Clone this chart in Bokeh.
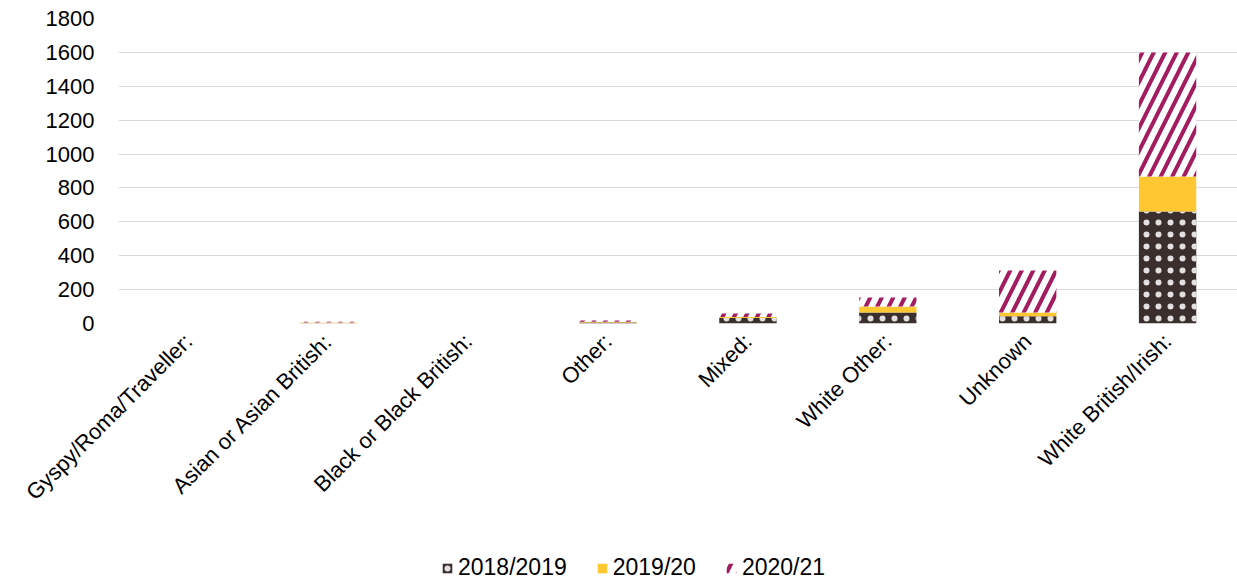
import math
from bokeh.plotting import figure
from bokeh.layouts import column
from bokeh.models import ColumnDataSource, FixedTicker, Legend, LegendItem, Range1d, FactorRange
from bokeh.transform import stack
from bokeh.embed import file_html
from bokeh.resources import INLINE

categories = ["Gyspy/Roma/Traveller:", "Asian or Asian British:", "Black or Black British:",
              "Other:", "Mixed:", "White Other:", "Unknown", "White British/Irish:"]
series_names = ["2018/2019", "2019/20", "2020/21"]
v2018 = [0, 1, 0, 6, 32, 65, 43, 661]
v2019 = [0, 5, 0, 4, 6, 35, 22, 206]
v2020 = [0, 4, 0, 7, 21, 53, 248, 733]
y_ticks = [0, 200, 400, 600, 800, 1000, 1200, 1400, 1600, 1800]

src = ColumnDataSource(dict(cat=categories, a=v2018, b=v2019, c=v2020))

FONT = "Liberation Sans"
DARK = dict(fill_color="#3a2f2c", line_color=None,
            hatch_pattern="dot", hatch_color="white", hatch_scale=12, hatch_weight=0.8,
            hatch_alpha=0.85)
YEL = dict(fill_color="#ffc832", line_color=None)
PINK = dict(fill_color="white", line_color=None,
            hatch_pattern="right_diagonal_line", hatch_color="#a31c60", hatch_scale=23, hatch_weight=4)

p = figure(x_range=FactorRange(*categories, range_padding=0), y_range=Range1d(0, 1800),
           width=1237, height=545, output_backend="svg", toolbar_location=None,
           min_border_left=118, min_border_right=0, min_border_top=18, min_border_bottom=222)
p.outline_line_color = None
p.background_fill_color = "white"

W = 0.41
p.vbar(x="cat", top=stack("a"), bottom=0, width=W, source=src, **DARK)
p.vbar(x="cat", top=stack("a", "b"), bottom=stack("a"), width=W, source=src, **YEL)
p.vbar(x="cat", top=stack("a", "b", "c"), bottom=stack("a", "b"), width=W, source=src, **PINK)

p.yaxis.ticker = FixedTicker(ticks=y_ticks)
p.ygrid.ticker = FixedTicker(ticks=y_ticks)
p.ygrid.grid_line_color = "#d9d9d9"
p.ygrid.grid_line_width = 1
p.xgrid.grid_line_color = None

for ax in (p.xaxis, p.yaxis):
    ax.axis_line_color = None
    ax.major_tick_line_color = None
    ax.minor_tick_line_color = None
    ax.major_label_text_font = FONT
    ax.major_label_text_font_size = "22px"
    ax.major_label_text_color = "#000000"

p.yaxis.major_label_standoff = 18
p.xaxis.major_label_orientation = math.pi / 4
p.xaxis.major_label_standoff = 8

# legend strip (its frame is aligned with the main frame, which starts at x=118)
lf = figure(width=1237, height=38, output_backend="svg", toolbar_location=None,
            x_range=Range1d(0, 1), y_range=Range1d(0, 1),
            min_border_left=0, min_border_right=0, min_border_top=0, min_border_bottom=0)
lf.axis.visible = False
lf.grid.visible = False
lf.outline_line_color = None
dummy = ColumnDataSource(dict(x=[-10], top=[0]))
l1 = lf.vbar(x="x", top="top", width=0.1, source=dummy, **DARK)
l2 = lf.vbar(x="x", top="top", width=0.1, source=dummy, **YEL)
l3 = lf.vbar(x="x", top="top", width=0.1, source=dummy, **PINK)
legend = Legend(items=[LegendItem(label=series_names[0], renderers=[l1]),
                       LegendItem(label=series_names[1], renderers=[l2]),
                       LegendItem(label=series_names[2], renderers=[l3])],
                orientation="horizontal", location=(323, 2),
                label_text_font=FONT, label_text_font_size="23px", label_text_color="#000000",
                glyph_width=12, glyph_height=12, label_standoff=5, spacing=29,
                padding=0, margin=0, border_line_color=None, background_fill_alpha=0)
lf.add_layout(legend, "center")

open("out.html", "w").write(file_html(column(p, lf, spacing=0), INLINE))
